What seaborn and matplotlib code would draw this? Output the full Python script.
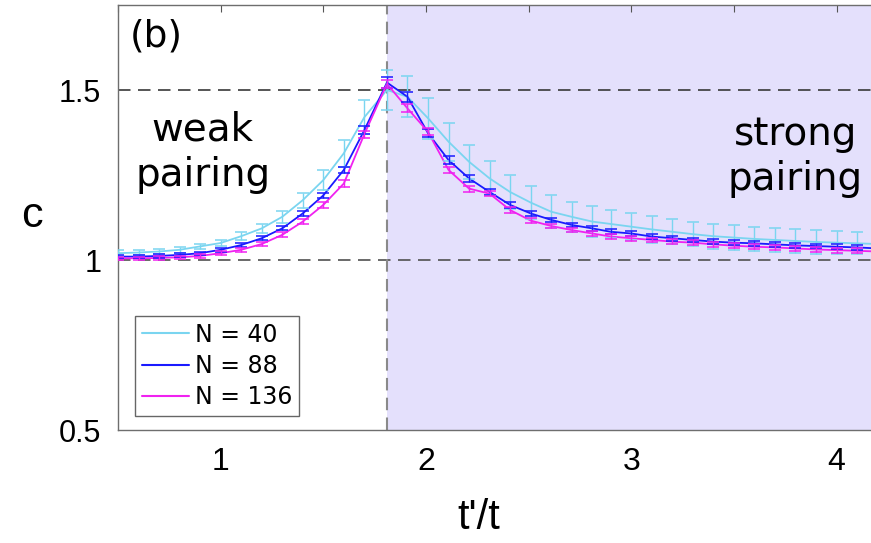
import numpy as np
import pandas as pd
import matplotlib
matplotlib.use('Agg')
import matplotlib.pyplot as plt
import seaborn as sns

# data (t'/t vs c, three system sizes)
x_vals = [0.5, 0.6, 0.7, 0.8, 0.9, 1.0, 1.1, 1.2, 1.3, 1.4, 1.5, 1.6, 1.7, 1.81,
          1.91, 2.01, 2.11, 2.21, 2.31, 2.41, 2.51, 2.61, 2.71, 2.81, 2.9, 3.0, 3.1, 3.2,
          3.3, 3.4, 3.5, 3.6, 3.7, 3.8, 3.9, 4.0, 4.1, 4.2]

c_n40 = [1.020, 1.022, 1.025, 1.030, 1.040, 1.050, 1.070, 1.093, 1.127, 1.176,
         1.235, 1.314, 1.420, 1.500, 1.480, 1.417, 1.348, 1.289, 1.240, 1.200,
         1.169, 1.142, 1.127, 1.113, 1.106, 1.098, 1.090, 1.083, 1.076, 1.070,
         1.066, 1.062, 1.059, 1.056, 1.053, 1.051, 1.049, 1.047]
err_n40 = [0.008, 0.008, 0.008, 0.008, 0.008, 0.010, 0.012, 0.014, 0.018, 0.022,
           0.030, 0.040, 0.050, 0.060, 0.060, 0.060, 0.056, 0.050, 0.050, 0.050,
           0.049, 0.048, 0.045, 0.045, 0.040, 0.039, 0.039, 0.037, 0.036, 0.037,
           0.037, 0.035, 0.035, 0.034, 0.034, 0.033, 0.032, 0.032]

c_n88 = [1.010, 1.010, 1.012, 1.015, 1.020, 1.030, 1.044, 1.064, 1.093, 1.137,
         1.190, 1.265, 1.382, 1.522, 1.480, 1.373, 1.294, 1.240, 1.200, 1.162,
         1.137, 1.118, 1.103, 1.093, 1.083, 1.078, 1.069, 1.064, 1.059, 1.054,
         1.051, 1.049, 1.046, 1.043, 1.041, 1.039, 1.037, 1.034]
err_n88 = [0.005, 0.005, 0.005, 0.005, 0.005, 0.006, 0.006, 0.006, 0.006, 0.008,
           0.008, 0.010, 0.012, 0.015, 0.015, 0.012, 0.012, 0.010, 0.008, 0.008,
           0.007, 0.007, 0.007, 0.007, 0.007, 0.007, 0.007, 0.007, 0.007, 0.007,
           0.007, 0.007, 0.007, 0.007, 0.007, 0.007, 0.007, 0.007]

c_n136 = [1.005, 1.005, 1.006, 1.008, 1.012, 1.020, 1.030, 1.047, 1.074, 1.113,
          1.162, 1.225, 1.370, 1.518, 1.446, 1.377, 1.265, 1.210, 1.195, 1.147,
          1.116, 1.100, 1.088, 1.078, 1.069, 1.064, 1.059, 1.054, 1.051, 1.046,
          1.042, 1.039, 1.037, 1.034, 1.031, 1.029, 1.027, 1.025]
err_n136 = [0.005, 0.005, 0.005, 0.005, 0.005, 0.006, 0.006, 0.006, 0.007, 0.008,
            0.008, 0.010, 0.010, 0.012, 0.012, 0.010, 0.010, 0.009, 0.008, 0.008,
            0.007, 0.007, 0.007, 0.007, 0.007, 0.007, 0.007, 0.007, 0.007, 0.007,
            0.007, 0.007, 0.007, 0.007, 0.007, 0.007, 0.007, 0.007]

sizes = ['N = 40', 'N = 88', 'N = 136']
colors = ['#7ad5f0', '#1a1aff', '#f022f0']

x_ticks = [0.5, 1.0, 1.5, 2.0, 2.5, 3.0, 3.5, 4.0]
x_ticklabels = ['', '1', '', '2', '', '3', '', '4']
y_ticks = [0.5, 1.0, 1.5]
y_ticklabels = ['0.5', '1', '1.5']
t_c = 1.81  # pairing crossover

# long table for seaborn
df = pd.concat([
    pd.DataFrame({'t': x_vals, 'c': c, 'err': e, 'N': n})
    for c, e, n in zip([c_n40, c_n88, c_n136], [err_n40, err_n88, err_n136], sizes)
])

sns.set_style('white')
plt.rcParams['font.family'] = ['Liberation Sans', 'DejaVu Sans']
plt.rcParams['text.color'] = 'black'
plt.rcParams['axes.labelcolor'] = 'black'

fig = plt.figure(figsize=(8.71, 5.43), dpi=100)
ax = fig.add_axes([118 / 871, 113 / 543, 0.87, 425 / 543])

# strong pairing region
ax.axvspan(t_c, 5, color='#e4e0fc', lw=0, zorder=0)

# reference lines
ax.axhline(1.5, color='#383838', lw=1.2, dashes=(7.5, 4.5), zorder=1)
ax.axhline(1.0, color='#505050', lw=1.2, dashes=(7.5, 4.5), zorder=1)
ax.axvline(t_c, color='#8a8a8a', lw=1.5, dashes=(6, 3.5), zorder=1)

# lines
sns.lineplot(data=df, x='t', y='c', hue='N', hue_order=sizes,
             palette=dict(zip(sizes, colors)), lw=1.3, errorbar=None,
             ax=ax, zorder=3)

# error bars
for n, col in zip(sizes, colors):
    sub = df[df['N'] == n]
    ax.errorbar(sub['t'], sub['c'], yerr=sub['err'], fmt='none', ecolor=col,
                elinewidth=1.0, capsize=4.5, capthick=1.1, zorder=3)

ax.set_xlim(0.5, 0.5 + 0.87 * 871 / 205.3)
ax.set_ylim(0.5, 1.75)
ax.set_xticks(x_ticks)
ax.set_xticklabels(x_ticklabels)
ax.set_yticks(y_ticks)
ax.set_yticklabels(y_ticklabels)
ax.tick_params(axis='both', direction='in', length=5, width=0.8, color='#555555',
               labelcolor='black', top=True, right=False)
ax.tick_params(axis='x', labelsize=23, pad=12)
ax.tick_params(axis='y', labelsize=22, pad=12)

for side in ['left', 'bottom', 'top']:
    ax.spines[side].set_color('#6e6e6e')
    ax.spines[side].set_linewidth(1.0)
ax.spines['right'].set_visible(False)

ax.set_xlabel("t'/t", fontsize=30)
ax.xaxis.set_label_coords(0.476, -0.16)
ax.set_ylabel('c', fontsize=31, rotation=0, va='center', ha='center')
ax.yaxis.set_label_coords(-0.113, 0.503)

# annotations
ax.text(0.913, 1.318, 'weak\npairing', ha='center', va='center', fontsize=28,
        family='DejaVu Sans', linespacing=1.25)
ax.text(3.80, 1.305, 'strong\npairing', ha='center', va='center', fontsize=28,
        family='DejaVu Sans', linespacing=1.25)
ax.text(0.555, 1.656, '(b)', ha='left', va='center', fontsize=27,
        family='DejaVu Sans')

leg = ax.legend(loc='lower left', bbox_to_anchor=(0.022, 0.033), borderaxespad=0,
                prop={'family': 'DejaVu Sans', 'size': 17}, frameon=True,
                fancybox=False, edgecolor='#666666', framealpha=1,
                handlelength=2.0, handletextpad=0.25, labelspacing=0.3,
                borderpad=0.3)
leg.get_frame().set_linewidth(1.0)
for line in leg.get_lines():
    line.set_linewidth(1.5)

fig.savefig('out.png', dpi=100)
